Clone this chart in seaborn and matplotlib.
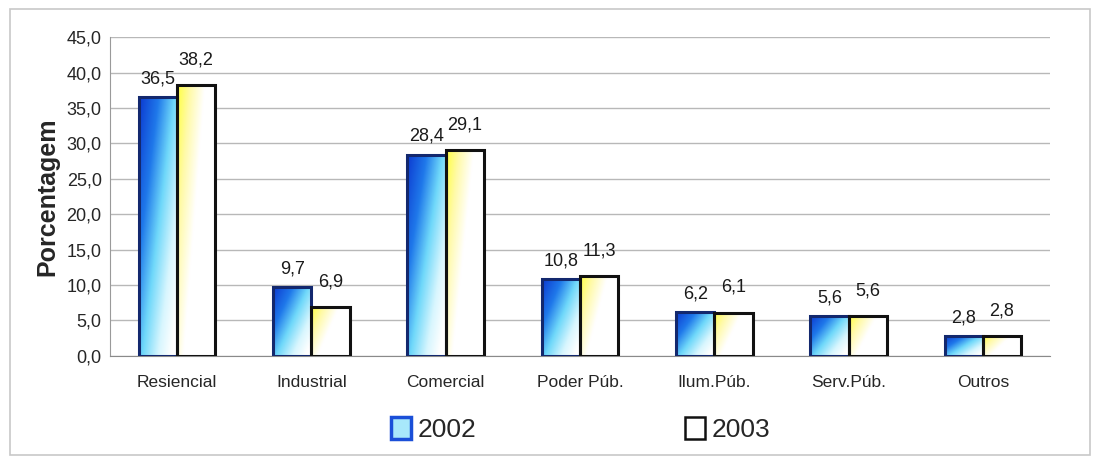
import numpy as np
import pandas as pd
import seaborn as sns
import matplotlib.pyplot as plt
from matplotlib.colors import LinearSegmentedColormap
from matplotlib.patches import Patch, Rectangle

# dados
categorias = ["Resiencial", "Industrial", "Comercial", "Poder Púb.",
              "Ilum.Púb.", "Serv.Púb.", "Outros"]
anos = ["2002", "2003"]
valores_2002 = [36.5, 9.7, 28.4, 10.8, 6.2, 5.6, 2.8]
valores_2003 = [38.2, 6.9, 29.1, 11.3, 6.1, 5.6, 2.8]
yticks = [0, 5, 10, 15, 20, 25, 30, 35, 40, 45]

df = pd.DataFrame({
    "categoria": categorias * 2,
    "ano": ["2002"] * len(categorias) + ["2003"] * len(categorias),
    "valor": valores_2002 + valores_2003,
})

sns.set_style("white")
plt.rcParams["font.family"] = ["Liberation Sans", "DejaVu Sans"]

fig = plt.figure(figsize=(11.02, 4.58), dpi=100)
ax = fig.add_axes([0.0998, 0.223, 0.853, 0.696])

sns.barplot(data=df, x="categoria", y="valor", hue="ano", hue_order=anos,
            palette=["#2a6ee0", "#ffffff"], width=0.57, gap=0,
            legend=False, ax=ax, zorder=3)

# gradientes (canto superior esquerdo mais escuro)
cm_azul = LinearSegmentedColormap.from_list(
    "azul", [(0, "#0c3ad0"), (0.3, "#1f78ea"), (0.55, "#6fd8fa"), (0.8, "#d8f6fe"), (1, "#ffffff")])
cm_amar = LinearSegmentedColormap.from_list(
    "amar", [(0, "#ffff40"), (0.3, "#fffaa8"), (0.65, "#ffffff"), (1, "#ffffff")])
u, v = np.meshgrid(np.linspace(0, 1, 60), np.linspace(0, 1, 120))
grad_azul = np.clip(0.6 * u + 0.5 * v, 0, 1)
grad_amar = np.clip(0.9 * u + 0.5 * v, 0, 1)

bordas = ["#13286e", "#111111"]
grads = [(grad_azul, cm_azul), (grad_amar, cm_amar)]
for i, cont in enumerate(ax.containers):
    g, cm = grads[i]
    for bar in cont:
        x0, w, h = bar.get_x(), bar.get_width(), bar.get_height()
        bar.set_facecolor("none")
        bar.set_edgecolor(bordas[i])
        bar.set_linewidth(2.2)
        bar.set_zorder(4)
        im = ax.imshow(g, cmap=cm, vmin=0, vmax=1, aspect="auto",
                       extent=[x0, x0 + w, 0, h], origin="upper",
                       interpolation="bilinear", zorder=3)
        im.set_clip_path(bar)

ax.set_xlim(-0.5, len(categorias) - 0.5)
ax.set_ylim(0, 45)

# rotulos de valor
for i, cont in enumerate(ax.containers):
    rot = [f"{b.get_height():.1f}".replace(".", ",") for b in cont]
    ax.bar_label(cont, labels=rot, padding=[7, 12][i], fontsize=13,
                 color="#1a1a1a", zorder=6)

ax.set_yticks(yticks)
ax.set_yticklabels([f"{t:.1f}".replace(".", ",") for t in yticks], fontsize=13)
ax.tick_params(axis="y", length=4, color="#9a9a9a", pad=2)
ax.tick_params(axis="x", length=0, pad=14, labelsize=12.5)
ax.yaxis.grid(True, color="#b8b8b8", linewidth=1)
ax.set_axisbelow(True)
ax.set_xlabel("")
ax.set_ylabel("Porcentagem", fontsize=18, fontweight="bold", labelpad=5)

for s in ["top", "right"]:
    ax.spines[s].set_visible(False)
ax.spines["left"].set_color("#9a9a9a")
ax.spines["bottom"].set_color("#8a8a8a")

handles = [Patch(facecolor="#a8e8fb", edgecolor="#1a4fd8", linewidth=2.5, label="2002"),
           Patch(facecolor="#ffffff", edgecolor="#111111", linewidth=1.8, label="2003")]
fig.legend(handles=handles, loc="center", bbox_to_anchor=(0.527, 0.063), ncol=2,
           frameon=False, fontsize=19, handlelength=0.75, handleheight=0.9,
           handletextpad=0.25, columnspacing=7.9)

# moldura
fig.add_artist(Rectangle((0.009, 0.006), 0.98, 0.975, transform=fig.transFigure,
                         fill=False, edgecolor="#c8c8c8", linewidth=1.2))

fig.savefig("out.png", dpi=100)
